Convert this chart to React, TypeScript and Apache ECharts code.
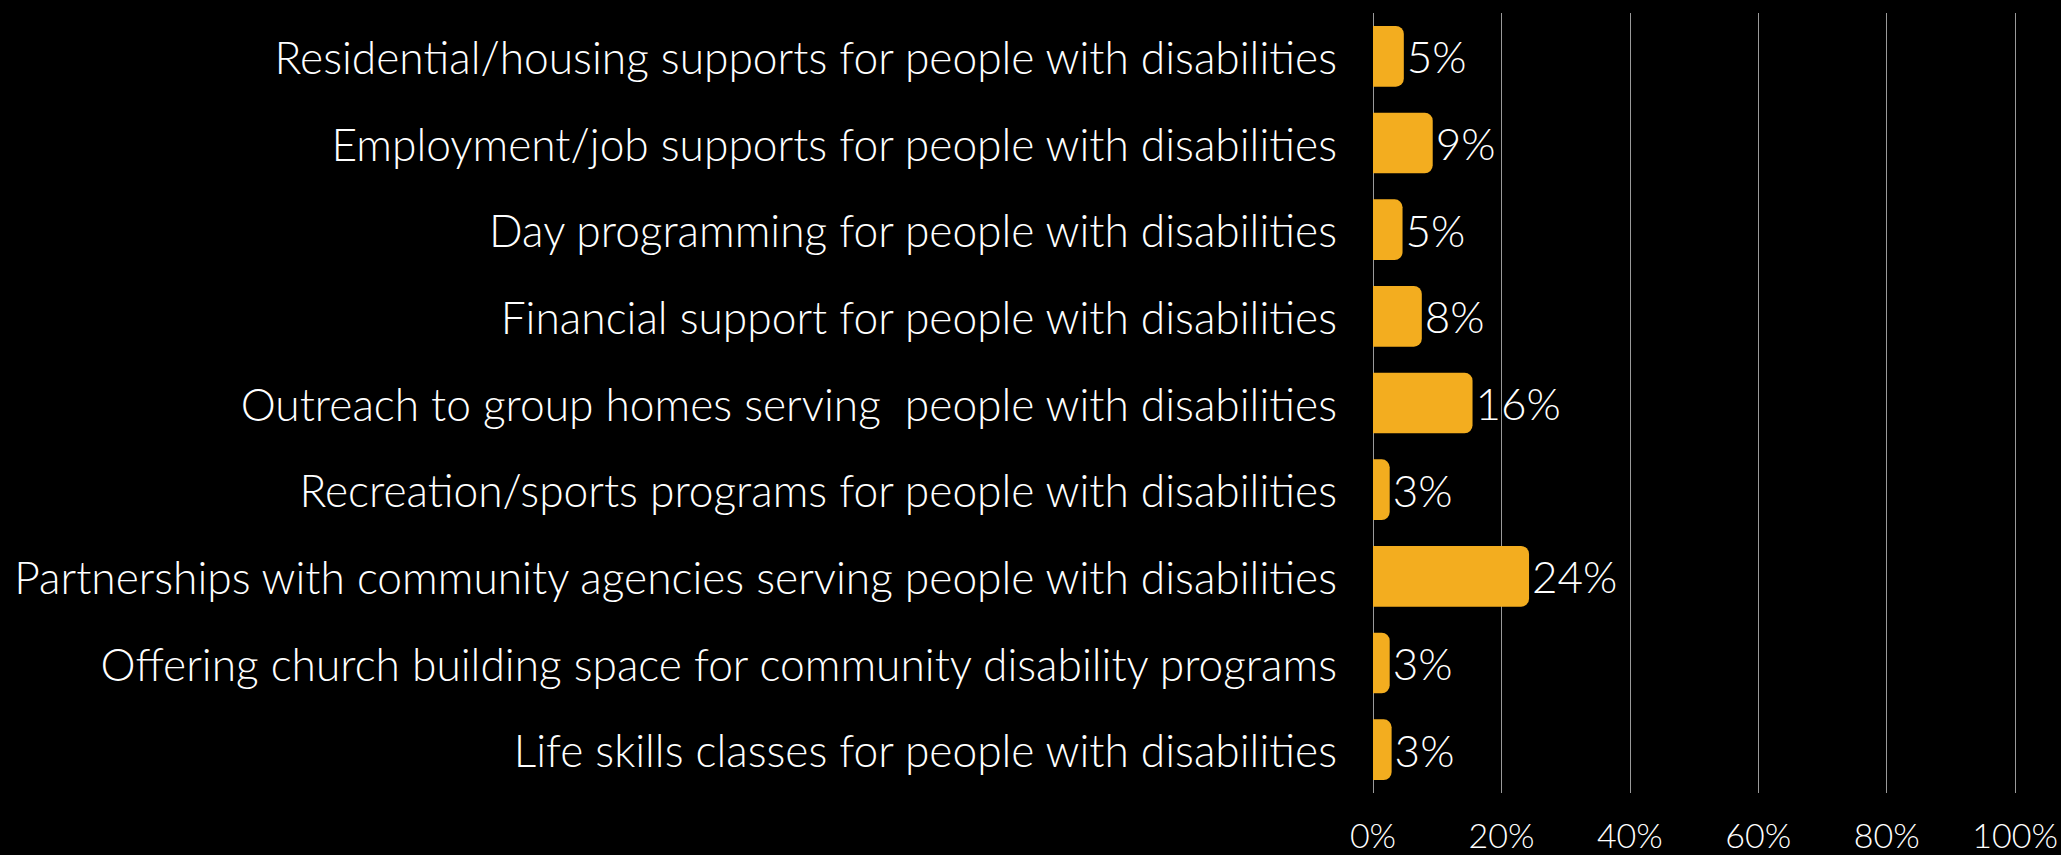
import React, { useEffect, useRef } from "react";
import * as echarts from "echarts";

const categories = [
  "Residential/housing supports for people with disabilities",
  "Employment/job supports for people with disabilities",
  "Day programming for people with disabilities",
  "Financial support for people with disabilities",
  "Outreach to group homes serving  people with disabilities",
  "Recreation/sports programs for people with disabilities",
  "Partnerships with community agencies serving people with disabilities",
  "Offering church building space for community disability programs",
  "Life skills classes for people with disabilities",
];

const values = [4.8, 9.3, 4.6, 7.6, 15.5, 2.6, 24.3, 2.6, 2.9];

const xTicks = [0, 20, 40, 60, 80, 100];

export default function App() {
  const ref = useRef<HTMLDivElement>(null);
  useEffect(() => {
    if (!ref.current) return;
    const chart = echarts.init(ref.current, undefined, { renderer: "svg" });
    const font = "Lato";
    chart.setOption({
      animation: false,
      backgroundColor: "#000000",
      grid: { left: 1373, right: 45, top: 13, bottom: 62, containLabel: false },
      xAxis: {
        type: "value",
        min: xTicks[0],
        max: xTicks[xTicks.length - 1],
        interval: 20,
        axisLine: { show: false },
        axisTick: { show: false },
        splitLine: { show: true, lineStyle: { color: "#9a9a9a", width: 1 } },
        axisLabel: {
          color: "#ffffff",
          fontFamily: font,
          fontWeight: 300,
          fontSize: 34,
          lineHeight: 34,
          margin: 24,
          formatter: (v: number) => `${v}%`,
        },
      },
      yAxis: {
        type: "category",
        data: categories,
        inverse: true,
        axisLine: { show: false },
        axisTick: { show: false },
        axisLabel: {
          color: "#ffffff",
          fontFamily: font,
          fontWeight: 300,
          fontSize: 44.3,
          margin: 36,
        },
      },
      series: [
        {
          type: "bar",
          data: values,
          barWidth: "70%",
          itemStyle: { color: "#F3AD1F", borderRadius: [0, 8, 8, 0] },
          label: {
            show: true,
            position: "right",
            distance: 3,
            color: "#ffffff",
            fontFamily: font,
            fontWeight: 300,
            fontSize: 44,
            formatter: (p: any) => `${Math.round(p.value)}%`,
          },
        },
      ],
    });
    return () => chart.dispose();
  }, []);
  return (
    <div
      ref={ref}
      style={{ position: "fixed", left: 0, top: 0, width: 2061, height: 855, background: "#000" }}
    />
  );
}
